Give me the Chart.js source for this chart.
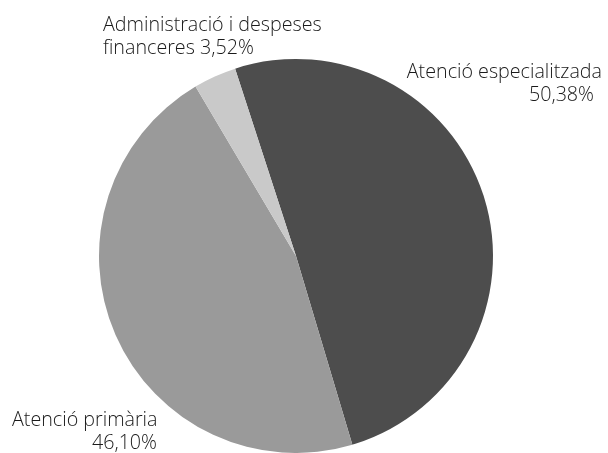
<!DOCTYPE html>
<html>
<head>
<meta charset="utf-8">
<script src="https://cdn.jsdelivr.net/npm/chart.js@4/dist/chart.umd.min.js"></script>
<style>
  html, body { margin: 0; padding: 0; background: #fff; }
  #wrap { width: 608px; height: 453px; }
</style>
</head>
<body>
<div id="wrap"><canvas id="chart" width="608" height="453"></canvas></div>
<script>
// dades del gràfic
const categories = ["Atenció especialitzada", "Atenció primària", "Administració i despeses financeres"];
const values = [50.38, 46.10, 3.52];
const colors = ["#4d4d4d", "#9a9a9a", "#c9c9c9"];

// etiquetes: línies de text per a cada porció
const labelLines = [
    ["Atenció especialitzada", "50,38%"],
    ["Atenció primària", "46,10%"],
    ["Administració i despeses", "financeres 3,52%"]
];

// posició de cada etiqueta (x, baseline, alineació)
const labelPos = [
    [{ x: 602, y: 78, align: "right" }, { x: 594, y: 101, align: "right" }],
    [{ x: 12, y: 426, align: "left" }, { x: 157, y: 449, align: "right" }],
    [{ x: 103, y: 31, align: "left" }, { x: 103, y: 54, align: "left" }]
];

const labelsPlugin = {
    id: "pieLabels",
    afterDraw(chart) {
        const ctx = chart.ctx;
        ctx.save();
        ctx.fillStyle = "#1a1a1a";
        ctx.font = "300 19.7px 'Open Sans', sans-serif";
        ctx.textBaseline = "alphabetic";
        labelLines.forEach((lines, i) => {
            lines.forEach((txt, j) => {
                const p = labelPos[i][j];
                ctx.textAlign = p.align;
                ctx.fillText(txt, p.x, p.y);
            });
        });
        ctx.restore();
    }
};

new Chart(document.getElementById("chart"), {
    type: "pie",
    data: {
        labels: categories,
        datasets: [{
            data: values,
            backgroundColor: colors,
            borderWidth: 0
        }]
    },
    options: {
        responsive: false,
        animation: false,
        rotation: -18,
        layout: { padding: { top: 59, bottom: 0, left: 0, right: 16 } },
        plugins: {
            legend: { display: false },
            tooltip: { enabled: false }
        }
    },
    plugins: [labelsPlugin]
});
</script>
</body>
</html>
